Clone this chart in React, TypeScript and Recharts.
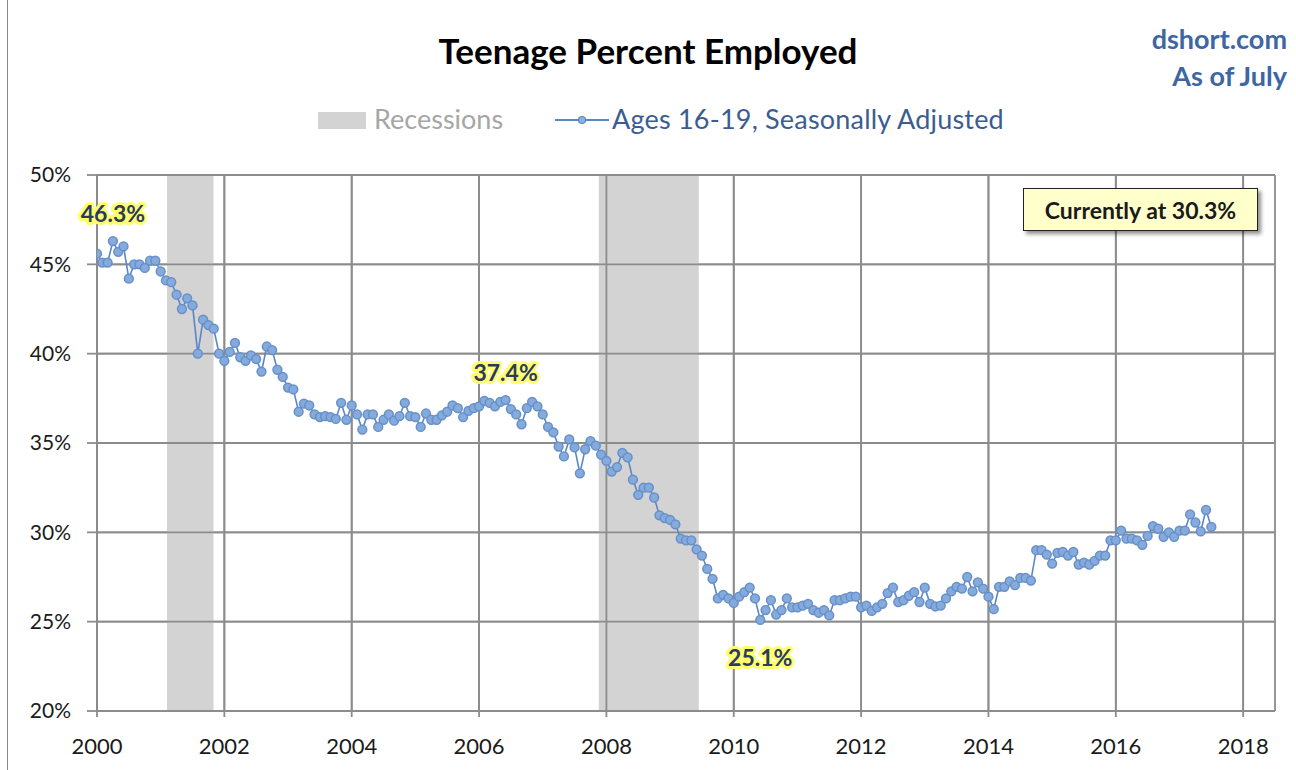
import React from 'react';
import {
  LineChart,
  Line,
  XAxis,
  YAxis,
  CartesianGrid,
  ReferenceArea,
  ReferenceLine,
  ReferenceDot,
} from 'recharts';

// Monthly teen employment-population ratio (%), Jan 2000 .. Jul 2017
const y2000 = [45.6, 45.1, 45.1, 46.3, 45.7, 46.0, 44.2, 45.0, 45.0, 44.8, 45.2, 45.2];
const y2001 = [44.6, 44.1, 44.0, 43.3, 42.5, 43.1, 42.7, 40.0, 41.9, 41.6, 41.4, 40.0];
const y2002 = [39.6, 40.1, 40.6, 39.8, 39.6, 39.9, 39.7, 39.0, 40.4, 40.2, 39.1, 38.7];
const y2003 = [38.1, 38.0, 36.75, 37.2, 37.1, 36.6, 36.45, 36.5, 36.45, 36.35, 37.25, 36.3];
const y2004 = [37.1, 36.6, 35.75, 36.6, 36.6, 35.9, 36.3, 36.6, 36.25, 36.5, 37.25, 36.5];
const y2005 = [36.45, 35.9, 36.65, 36.3, 36.3, 36.55, 36.75, 37.1, 36.95, 36.45, 36.8, 36.95];
const y2006 = [37.05, 37.35, 37.25, 37.05, 37.3, 37.4, 36.9, 36.6, 36.05, 36.95, 37.3, 37.05];
const y2007 = [36.6, 35.9, 35.6, 34.8, 34.25, 35.2, 34.75, 33.3, 34.65, 35.1, 34.85, 34.35];
const y2008 = [34.0, 33.4, 33.65, 34.45, 34.2, 32.95, 32.1, 32.5, 32.5, 31.95, 30.95, 30.8];
const y2009 = [30.7, 30.45, 29.65, 29.55, 29.55, 29.05, 28.7, 27.95, 27.4, 26.3, 26.5, 26.3];
const y2010 = [26.05, 26.4, 26.65, 26.9, 26.3, 25.1, 25.65, 26.2, 25.4, 25.65, 26.3, 25.8];
const y2011 = [25.8, 25.9, 26.0, 25.65, 25.5, 25.65, 25.35, 26.2, 26.2, 26.3, 26.4, 26.4];
const y2012 = [25.8, 25.9, 25.6, 25.8, 26.0, 26.6, 26.9, 26.1, 26.2, 26.45, 26.65, 26.1];
const y2013 = [26.9, 26.0, 25.85, 25.9, 26.3, 26.7, 26.95, 26.85, 27.5, 26.7, 27.2, 26.85];
const y2014 = [26.4, 25.7, 26.95, 26.95, 27.25, 27.05, 27.45, 27.45, 27.3, 29.0, 29.0, 28.75];
const y2015 = [28.25, 28.85, 28.9, 28.7, 28.9, 28.2, 28.3, 28.2, 28.4, 28.7, 28.7, 29.55];
const y2016 = [29.55, 30.1, 29.65, 29.65, 29.55, 29.3, 29.8, 30.35, 30.2, 29.75, 30.0, 29.75];
const y2017 = [30.1, 30.1, 31.0, 30.55, 30.05, 31.25, 30.3];

const monthly = [
  ...y2000, ...y2001, ...y2002, ...y2003, ...y2004, ...y2005,
  ...y2006, ...y2007, ...y2008, ...y2009, ...y2010, ...y2011,
  ...y2012, ...y2013, ...y2014, ...y2015, ...y2016, ...y2017,
];

const xTicks = [2000, 2002, 2004, 2006, 2008, 2010, 2012, 2014, 2016, 2018];
const yTicks = [20, 25, 30, 35, 40, 45, 50];

// recession spans (fractional years)
const recessions = [
  [2001.1, 2001.83],
  [2007.88, 2009.45],
];

// highlighted points: [year fraction, value, label offset]
const callouts = [
  { t: 2000 + 3 / 12, v: 46.3, dy: -28 },
  { t: 2006 + 5 / 12, v: 37.4, dy: -28 },
  { t: 2010 + 5 / 12, v: 25.1, dy: 37 },
];

const data = monthly.map((v, i) => ({ t: 2000 + i / 12, value: v }));

const FONT = 'Lato, "Open Sans", sans-serif';
const GRID = '#8c8c8c';

const Callout = (props: any) => {
  const { viewBox, value, dy } = props;
  if (!viewBox) return null;
  const cx = viewBox.x + (viewBox.width || 0) / 2;
  const cy = viewBox.y + (viewBox.height || 0) / 2;
  return (
    <text
      x={cx}
      y={cy + dy}
      textAnchor="middle"
      dominantBaseline="central"
      fontFamily={FONT}
      fontWeight={700}
      fontSize={23}
      fill="#2b3b5e"
      stroke="#ffff70"
      strokeWidth={6}
      strokeLinejoin="round"
      paintOrder="stroke"
    >
      {value}
    </text>
  );
};

export default function App() {
  return (
    <div
      style={{
        position: 'absolute',
        left: 0,
        top: 0,
        width: 1296,
        height: 770,
        background: '#fff',
        fontFamily: FONT,
        overflow: 'hidden',
      }}
    >
      <div style={{ position: 'absolute', left: 7, top: 0, width: 1, height: 770, background: '#8a8a8a' }} />

      <div
        style={{
          position: 'absolute',
          left: 0,
          width: 1296,
          top: 29,
          textAlign: 'center',
          fontSize: 35,
          fontWeight: 700,
          color: '#000',
        }}
      >
        Teenage Percent Employed
      </div>

      <div style={{ position: 'absolute', right: 9, top: 20, textAlign: 'right', fontSize: 27, fontWeight: 700, color: '#3d66a3', lineHeight: '37px' }}>
        dshort.com
        <br />
        As of July
      </div>

      {/* legend */}
      <div style={{ position: 'absolute', left: 318, top: 112, width: 48, height: 17, background: '#d3d3d3' }} />
      <div style={{ position: 'absolute', left: 374, top: 102, fontSize: 27, color: '#a6a6a6', lineHeight: '34px' }}>
        Recessions
      </div>
      <svg style={{ position: 'absolute', left: 553, top: 110 }} width={58} height={20}>
        <line x1={2} y1={10} x2={56} y2={10} stroke="#5b86c5" strokeWidth={2} />
        <circle cx={29} cy={10} r={3.5} fill="#8eb1de" stroke="#5b86c5" strokeWidth={1.2} />
      </svg>
      <div style={{ position: 'absolute', left: 612, top: 102, fontSize: 27, color: '#3b5d91', lineHeight: '34px', letterSpacing: 0.2 }}>
        Ages 16-19, Seasonally Adjusted
      </div>

      <LineChart
        width={1296}
        height={770}
        data={data}
        margin={{ top: 175, right: 21, bottom: 29, left: 47 }}
      >
        <CartesianGrid stroke={GRID} strokeWidth={1.8} />
        {recessions.map(([a, b], i) => (
          <ReferenceArea
            key={`r${i}`}
            x1={a}
            x2={b}
            y1={20}
            y2={50}
            fill="#d3d3d3"
            fillOpacity={1}
            stroke="none"
          />
        ))}
        {/* gridlines redrawn over the recession shading */}
        {xTicks.map((t) => (
          <ReferenceLine key={`vx${t}`} x={t} stroke={GRID} strokeWidth={1.8} />
        ))}
        {yTicks.map((t) => (
          <ReferenceLine key={`hy${t}`} y={t} stroke={GRID} strokeWidth={1.8} />
        ))}
        <XAxis
          type="number"
          dataKey="t"
          domain={[2000, 2018.5]}
          ticks={xTicks}
          allowDataOverflow
          height={30}
          tickSize={6}
          tickMargin={21}
          stroke={GRID}
          strokeWidth={1.8}
          tick={{ fill: '#1a1a1a', fontSize: 22, fontFamily: FONT }}
        />
        <YAxis
          type="number"
          domain={[20, 50]}
          ticks={yTicks}
          width={50}
          tickSize={10}
          tickMargin={16}
          stroke={GRID}
          strokeWidth={1.8}
          tickFormatter={(v: number) => `${v}%`}
          tick={{ fill: '#1a1a1a', fontSize: 21, fontFamily: FONT }}
        />
        <Line
          type="linear"
          dataKey="value"
          stroke="#5b86c5"
          strokeWidth={1.6}
          dot={{ r: 4.4, fill: '#85aadc', stroke: '#6790ca', strokeWidth: 1.5 }}
          activeDot={false}
          isAnimationActive={false}
        />
        {callouts.map((c, i) => (
          <ReferenceDot
            key={`c${i}`}
            x={c.t}
            y={c.v}
            r={0}
            fill="none"
            stroke="none"
            ifOverflow="visible"
            label={{ content: (p: any) => <Callout {...p} value={`${c.v.toFixed(1)}%`} dy={c.dy} /> }}
          />
        ))}
      </LineChart>

      <div
        style={{
          position: 'absolute',
          left: 1023,
          top: 188,
          width: 233,
          height: 41,
          background: '#ffffcc',
          border: '1.5px solid #222',
          boxShadow: '3px 3px 4px rgba(0,0,0,0.45)',
          fontSize: 23,
          fontWeight: 700,
          color: '#1a1a1a',
          display: 'flex',
          alignItems: 'center',
          justifyContent: 'center',
        }}
      >
        Currently at 30.3%
      </div>
    </div>
  );
}
